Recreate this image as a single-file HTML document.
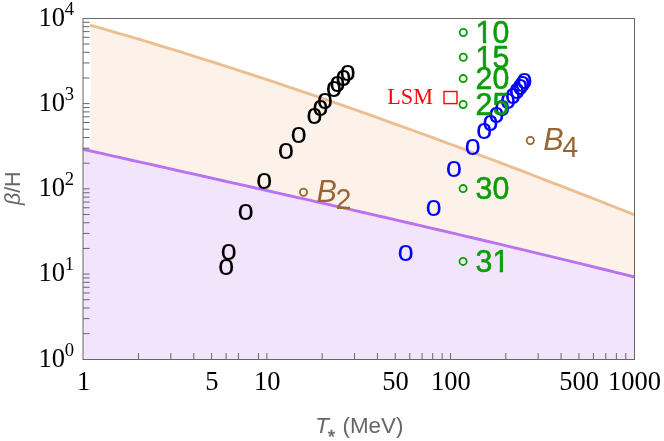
<!DOCTYPE html>
<html><head><meta charset="utf-8"><title>plot</title>
<style>html,body{margin:0;padding:0;background:#fff;}svg{display:block;will-change:transform;}text{font-family:"Liberation Sans",sans-serif;}.se{font-family:"Liberation Serif",serif;}</style></head><body>
<svg width="664" height="441" viewBox="0 0 664 441">
<rect width="664" height="441" fill="#fff"/>
<polygon fill="#F2E4FB" points="83.00,149.26 92.35,151.36 101.69,153.45 111.04,155.55 120.39,157.65 129.74,159.74 139.08,161.84 148.43,163.94 157.78,166.03 167.13,168.13 176.47,170.22 185.82,172.32 195.17,174.42 204.52,176.52 213.86,178.62 223.21,180.72 232.56,182.82 241.91,184.92 251.25,187.03 260.60,189.13 269.95,191.24 279.30,193.36 288.64,195.47 297.99,197.59 307.34,199.71 316.69,201.83 326.03,203.95 335.38,206.08 344.73,208.21 354.08,210.35 363.42,212.49 372.77,214.63 382.12,216.78 391.47,218.93 400.81,221.09 410.16,223.25 419.51,225.42 428.86,227.59 438.20,229.77 447.55,231.95 456.90,234.13 466.25,236.33 475.59,238.53 484.94,240.73 494.29,242.94 503.64,245.16 512.98,247.38 522.33,249.61 531.68,251.85 541.03,254.10 550.37,256.35 559.72,258.61 569.07,260.88 578.42,263.15 587.76,265.44 597.11,267.73 606.46,270.03 615.81,272.33 625.15,274.65 634.50,276.98 634.5,359.5 83.0,359.5"/>
<polygon fill="#FCF2EA" points="90.70,25.24 99.23,27.67 108.46,30.33 117.69,33.02 126.92,35.73 136.14,38.46 145.37,41.22 154.60,44.00 163.83,46.80 173.06,49.63 182.29,52.48 191.52,55.36 200.75,58.26 209.97,61.17 219.20,64.12 228.43,67.08 237.66,70.06 246.89,73.07 256.12,76.10 265.35,79.15 274.58,82.21 283.81,85.30 293.03,88.41 302.26,91.54 311.49,94.68 320.72,97.85 329.95,101.03 339.18,104.24 348.41,107.46 357.64,110.70 366.86,113.95 376.09,117.23 385.32,120.52 394.55,123.82 403.78,127.15 413.01,130.49 422.24,133.84 431.47,137.22 440.69,140.60 449.92,144.00 459.15,147.42 468.38,150.85 477.61,154.30 486.84,157.76 496.07,161.23 505.30,164.72 514.53,168.22 523.75,171.73 532.98,175.25 542.21,178.79 551.44,182.34 560.67,185.90 569.90,189.47 579.13,193.06 588.36,196.65 597.58,200.26 606.81,203.87 616.04,207.50 625.27,211.13 634.50,214.78 634.50,276.98 625.15,274.65 615.81,272.33 606.46,270.03 597.11,267.73 587.76,265.44 578.42,263.15 569.07,260.88 559.72,258.61 550.37,256.35 541.03,254.10 531.68,251.85 522.33,249.61 512.98,247.38 503.64,245.16 494.29,242.94 484.94,240.73 475.59,238.53 466.25,236.33 456.90,234.13 447.55,231.95 438.20,229.77 428.86,227.59 419.51,225.42 410.16,223.25 400.81,221.09 391.47,218.93 382.12,216.78 372.77,214.63 363.42,212.49 354.08,210.35 344.73,208.21 335.38,206.08 326.03,203.95 316.69,201.83 307.34,199.71 297.99,197.59 288.64,195.47 279.30,193.36 269.95,191.24 260.60,189.13 251.25,187.03 241.91,184.92 232.56,182.82 223.21,180.72 213.86,178.62 204.52,176.52 195.17,174.42 185.82,172.32 176.47,170.22 167.13,168.13 157.78,166.03 148.43,163.94 139.08,161.84 129.74,159.74 120.39,157.65 111.04,155.55 101.69,153.45 92.35,151.36 90.70,150.99"/>
<polyline fill="none" stroke="#EDBE91" stroke-width="2.9" points="90.00,25.04 99.23,27.67 108.46,30.33 117.69,33.02 126.92,35.73 136.14,38.46 145.37,41.22 154.60,44.00 163.83,46.80 173.06,49.63 182.29,52.48 191.52,55.36 200.75,58.26 209.97,61.17 219.20,64.12 228.43,67.08 237.66,70.06 246.89,73.07 256.12,76.10 265.35,79.15 274.58,82.21 283.81,85.30 293.03,88.41 302.26,91.54 311.49,94.68 320.72,97.85 329.95,101.03 339.18,104.24 348.41,107.46 357.64,110.70 366.86,113.95 376.09,117.23 385.32,120.52 394.55,123.82 403.78,127.15 413.01,130.49 422.24,133.84 431.47,137.22 440.69,140.60 449.92,144.00 459.15,147.42 468.38,150.85 477.61,154.30 486.84,157.76 496.07,161.23 505.30,164.72 514.53,168.22 523.75,171.73 532.98,175.25 542.21,178.79 551.44,182.34 560.67,185.90 569.90,189.47 579.13,193.06 588.36,196.65 597.58,200.26 606.81,203.87 616.04,207.50 625.27,211.13 634.50,214.78"/>
<polyline fill="none" stroke="#B973F0" stroke-width="2.9" points="83.00,149.26 92.35,151.36 101.69,153.45 111.04,155.55 120.39,157.65 129.74,159.74 139.08,161.84 148.43,163.94 157.78,166.03 167.13,168.13 176.47,170.22 185.82,172.32 195.17,174.42 204.52,176.52 213.86,178.62 223.21,180.72 232.56,182.82 241.91,184.92 251.25,187.03 260.60,189.13 269.95,191.24 279.30,193.36 288.64,195.47 297.99,197.59 307.34,199.71 316.69,201.83 326.03,203.95 335.38,206.08 344.73,208.21 354.08,210.35 363.42,212.49 372.77,214.63 382.12,216.78 391.47,218.93 400.81,221.09 410.16,223.25 419.51,225.42 428.86,227.59 438.20,229.77 447.55,231.95 456.90,234.13 466.25,236.33 475.59,238.53 484.94,240.73 494.29,242.94 503.64,245.16 512.98,247.38 522.33,249.61 531.68,251.85 541.03,254.10 550.37,256.35 559.72,258.61 569.07,260.88 578.42,263.15 587.76,265.44 597.11,267.73 606.46,270.03 615.81,272.33 625.15,274.65 634.50,276.98"/>
<path d="M83.0,333.64h6.6M83.0,318.64h6.6M83.0,307.99h6.6M83.0,299.73h6.6M83.0,292.98h6.6M83.0,287.28h6.6M83.0,282.33h6.6M83.0,277.97h6.6M83.0,274.07h6.6M83.0,248.42h6.6M83.0,233.41h6.6M83.0,222.76h6.6M83.0,214.51h6.6M83.0,207.76h6.6M83.0,202.05h6.6M83.0,197.11h6.6M83.0,192.75h6.6M83.0,188.85h6.6M83.0,163.19h6.6M83.0,148.19h6.6M83.0,137.54h6.6M83.0,129.28h6.6M83.0,122.53h6.6M83.0,116.83h6.6M83.0,111.88h6.6M83.0,107.52h6.6M83.0,103.62h6.6M83.0,77.97h6.6M83.0,62.96h6.6M83.0,52.31h6.6M83.0,44.06h6.6M83.0,37.31h6.6M83.0,31.60h6.6M83.0,26.66h6.6M83.0,22.30h6.6M138.49,359.5v-6.4M170.83,359.5v-6.4M193.78,359.5v-6.4M211.58,359.5v-6.4M226.12,359.5v-6.4M238.42,359.5v-6.4M258.46,359.5v-6.4M266.87,359.5v-6.4M322.16,359.5v-6.4M354.50,359.5v-6.4M377.45,359.5v-6.4M395.24,359.5v-6.4M409.79,359.5v-6.4M422.08,359.5v-6.4M432.73,359.5v-6.4M442.13,359.5v-6.4M450.53,359.5v-6.4M505.82,359.5v-6.4M538.16,359.5v-6.4M561.11,359.5v-6.4M578.91,359.5v-6.4M593.45,359.5v-6.4M605.75,359.5v-6.4M616.40,359.5v-6.4M625.80,359.5v-6.4" stroke="#666" stroke-width="1" fill="none"/>
<rect x="83.0" y="18.5" width="551.5" height="341.0" fill="none" stroke="#666" stroke-width="1"/>
<text transform="translate(226.20,267.20) scale(1.0,1)" x="-8.18" y="7.77" font-size="29.4" fill="#000">o</text>
<text transform="translate(228.70,252.60) scale(1.0,1)" x="-8.18" y="7.77" font-size="29.4" fill="#000">o</text>
<text transform="translate(245.60,212.00) scale(1.0,1)" x="-8.18" y="7.77" font-size="29.4" fill="#000">o</text>
<text transform="translate(264.20,181.50) scale(1.0,1)" x="-8.18" y="7.77" font-size="29.4" fill="#000">o</text>
<text transform="translate(286.00,151.00) scale(1.0,1)" x="-8.18" y="7.77" font-size="29.4" fill="#000">o</text>
<text transform="translate(298.70,135.00) scale(1.0,1)" x="-8.18" y="7.77" font-size="29.4" fill="#000">o</text>
<text transform="translate(314.30,115.90) scale(1.0,1)" x="-8.18" y="7.77" font-size="29.4" fill="#000">o</text>
<text transform="translate(320.50,108.00) scale(1.0,1)" x="-8.18" y="7.77" font-size="29.4" fill="#000">o</text>
<text transform="translate(324.90,101.30) scale(1.0,1)" x="-8.18" y="7.77" font-size="29.4" fill="#000">o</text>
<text transform="translate(334.00,89.30) scale(1.0,1)" x="-8.18" y="7.77" font-size="29.4" fill="#000">o</text>
<text transform="translate(337.40,83.90) scale(1.0,1)" x="-8.18" y="7.77" font-size="29.4" fill="#000">o</text>
<text transform="translate(343.30,77.80) scale(1.0,1)" x="-8.18" y="7.77" font-size="29.4" fill="#000">o</text>
<text transform="translate(347.70,73.30) scale(1.0,1)" x="-8.18" y="7.77" font-size="29.4" fill="#000">o</text>
<text transform="translate(405.60,253.60) scale(1.0,1)" x="-8.18" y="7.77" font-size="29.4" fill="#0000FF">o</text>
<text transform="translate(433.60,208.00) scale(1.0,1)" x="-8.18" y="7.77" font-size="29.4" fill="#0000FF">o</text>
<text transform="translate(454.00,169.10) scale(1.0,1)" x="-8.18" y="7.77" font-size="29.4" fill="#0000FF">o</text>
<text transform="translate(472.60,147.30) scale(1.0,1)" x="-8.18" y="7.77" font-size="29.4" fill="#0000FF">o</text>
<text transform="translate(484.20,131.20) scale(1.0,1)" x="-8.18" y="7.77" font-size="29.4" fill="#0000FF">o</text>
<text transform="translate(490.40,123.00) scale(1.0,1)" x="-8.18" y="7.77" font-size="29.4" fill="#0000FF">o</text>
<text transform="translate(496.40,115.40) scale(1.0,1)" x="-8.18" y="7.77" font-size="29.4" fill="#0000FF">o</text>
<text transform="translate(502.10,108.10) scale(1.0,1)" x="-8.18" y="7.77" font-size="29.4" fill="#0000FF">o</text>
<text transform="translate(508.00,101.60) scale(1.0,1)" x="-8.18" y="7.77" font-size="29.4" fill="#0000FF">o</text>
<text transform="translate(512.80,96.10) scale(1.0,1)" x="-8.18" y="7.77" font-size="29.4" fill="#0000FF">o</text>
<text transform="translate(516.90,91.40) scale(1.0,1)" x="-8.18" y="7.77" font-size="29.4" fill="#0000FF">o</text>
<text transform="translate(520.10,87.30) scale(1.0,1)" x="-8.18" y="7.77" font-size="29.4" fill="#0000FF">o</text>
<text transform="translate(522.50,83.90) scale(1.0,1)" x="-8.18" y="7.77" font-size="29.4" fill="#0000FF">o</text>
<text transform="translate(524.30,81.10) scale(1.0,1)" x="-8.18" y="7.77" font-size="29.4" fill="#0000FF">o</text>
<circle cx="463.3" cy="32.5" r="3.6" fill="none" stroke="#0a9d08" stroke-width="1.8"/>
<clipPath id="c10"><path d="M-3,-40H80V4H16.85V-3.46H10.60V4H7.32V-3.46H0.91V4H-3Z"/></clipPath>
<text transform="translate(475.6,43.20) scale(1,1.04)" font-size="30.3" fill="#0a9d08" stroke="#0a9d08" stroke-width="0.55" clip-path="url(#c10)">10</text>
<circle cx="463.3" cy="57.2" r="3.6" fill="none" stroke="#0a9d08" stroke-width="1.8"/>
<clipPath id="c15"><path d="M-3,-40H80V4H16.85V-3.46H10.60V4H7.32V-3.46H0.91V4H-3Z"/></clipPath>
<text transform="translate(475.6,67.90) scale(1,1.04)" font-size="30.3" fill="#0a9d08" stroke="#0a9d08" stroke-width="0.55" clip-path="url(#c15)">15</text>
<circle cx="463.2" cy="78.6" r="3.6" fill="none" stroke="#0a9d08" stroke-width="1.8"/>
<text transform="translate(475.6,89.30) scale(1,1.04)" font-size="30.3" fill="#0a9d08" stroke="#0a9d08" stroke-width="0.55">20</text>
<circle cx="463.1" cy="104.5" r="3.6" fill="none" stroke="#0a9d08" stroke-width="1.8"/>
<text transform="translate(475.6,115.20) scale(1,1.04)" font-size="30.3" fill="#0a9d08" stroke="#0a9d08" stroke-width="0.55">25</text>
<circle cx="463.1" cy="188.6" r="3.6" fill="none" stroke="#0a9d08" stroke-width="1.8"/>
<text transform="translate(475.6,199.30) scale(1,1.04)" font-size="30.3" fill="#0a9d08" stroke="#0a9d08" stroke-width="0.55">30</text>
<circle cx="463.1" cy="261.4" r="3.6" fill="none" stroke="#0a9d08" stroke-width="1.8"/>
<clipPath id="c31"><path d="M-3,-40H80V4H33.70V-3.46H27.45V4H24.17V-3.46H17.76V4H-3Z"/></clipPath>
<text transform="translate(475.6,272.10) scale(1,1.04)" font-size="30.3" fill="#0a9d08" stroke="#0a9d08" stroke-width="0.55" clip-path="url(#c31)">31</text>
<circle cx="303.5" cy="192.2" r="3.6" fill="none" stroke="#996633" stroke-width="1.8"/>
<text x="316.56" y="202.10" font-size="30.6" fill="#996633" font-style="italic">B</text>
<text x="335.47" y="208.60" font-size="28.6" fill="#996633">2</text>
<circle cx="530.3" cy="140.5" r="3.6" fill="none" stroke="#996633" stroke-width="1.8"/>
<text x="543.36" y="150.40" font-size="30.6" fill="#996633" font-style="italic">B</text>
<text x="562.27" y="156.90" font-size="28.6" fill="#996633">4</text>
<text class="se" x="387.26" y="104.0" font-size="22.2" fill="#FF0000">LSM</text>
<rect x="444.0" y="91.5" width="13.0" height="12.1" fill="none" stroke="#FF0000" stroke-width="1.4"/>
<text class="se" x="38.47" y="366.60" font-size="26.5" fill="#000">10</text>
<text class="se" x="64.74" y="355.70" font-size="18.7" fill="#000">0</text>
<text class="se" x="38.47" y="281.38" font-size="26.5" fill="#000">10</text>
<text class="se" x="64.74" y="270.48" font-size="18.7" fill="#000">1</text>
<text class="se" x="38.47" y="196.15" font-size="26.5" fill="#000">10</text>
<text class="se" x="64.74" y="185.25" font-size="18.7" fill="#000">2</text>
<text class="se" x="38.47" y="110.92" font-size="26.5" fill="#000">10</text>
<text class="se" x="64.74" y="100.02" font-size="18.7" fill="#000">3</text>
<text class="se" x="38.47" y="25.70" font-size="26.5" fill="#000">10</text>
<text class="se" x="64.74" y="14.80" font-size="18.7" fill="#000">4</text>
<text class="se" x="83.50" y="390.0" font-size="26.5" fill="#000" text-anchor="middle">1</text>
<text class="se" x="211.88" y="390.0" font-size="26.5" fill="#000" text-anchor="middle">5</text>
<text class="se" x="267.17" y="390.0" font-size="26.5" fill="#000" text-anchor="middle">10</text>
<text class="se" x="395.54" y="390.0" font-size="26.5" fill="#000" text-anchor="middle">50</text>
<text class="se" x="450.83" y="390.0" font-size="26.5" fill="#000" text-anchor="middle">100</text>
<text class="se" x="579.21" y="390.0" font-size="26.5" fill="#000" text-anchor="middle">500</text>
<text class="se" x="634.50" y="390.0" font-size="26.5" fill="#000" text-anchor="middle">1000</text>
<text x="315.19" y="433.0" font-size="22.4" fill="#666" font-style="italic">T</text>
<text x="327.7" y="443.4" font-size="19" fill="#666" stroke="#666" stroke-width="0.5">*</text>
<text x="342.51" y="433.0" font-size="22.4" fill="#666">(MeV)</text>
<g transform="translate(20,205) rotate(-90)"><text x="0" y="0" font-size="21.3" fill="#666"><tspan font-style="italic">β</tspan>/H</text></g>
</svg></body></html>
